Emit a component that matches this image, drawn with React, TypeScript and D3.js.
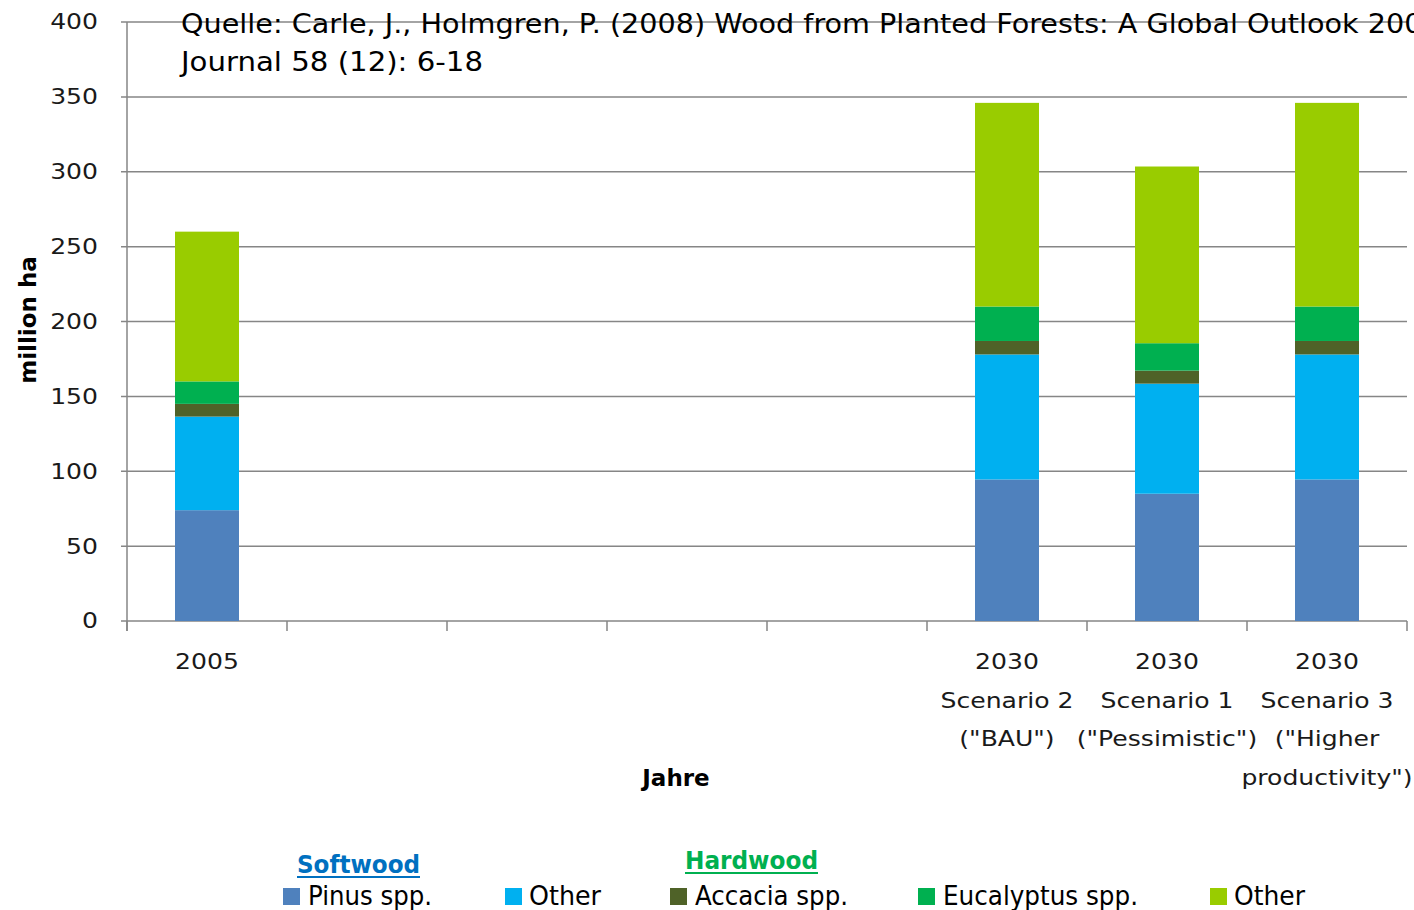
import React from "react";
import * as d3 from "d3";

const categories: string[][] = [
  ["2005"],
  [""],
  [""],
  [""],
  [""],
  ["2030", "Scenario 2", "(\"BAU\")"],
  ["2030", "Scenario 1", "(\"Pessimistic\")"],
  ["2030", "Scenario 3", "(\"Higher", "productivity\")"],
];

const pinus = [74, 0, 0, 0, 0, 94.5, 85, 94.5];
const otherSoftwood = [62.5, 0, 0, 0, 0, 83.5, 73.5, 83.5];
const accacia = [8.5, 0, 0, 0, 0, 9, 8.7, 9];
const eucalyptus = [15, 0, 0, 0, 0, 23, 18.3, 23];
const otherHardwood = [100, 0, 0, 0, 0, 136, 118, 136];

const yTicks = [0, 50, 100, 150, 200, 250, 300, 350, 400];

const seriesNames = ["Pinus spp.", "Other", "Accacia spp.", "Eucalyptus spp.", "Other"];
const seriesKeys = ["pinus", "otherSoftwood", "accacia", "eucalyptus", "otherHardwood"];
const seriesColors = ["#4F81BD", "#00B0F0", "#4F6228", "#00B050", "#99CC00"];

const titleLines = [
  "Quelle: Carle, J., Holmgren, P. (2008) Wood from Planted Forests: A Global Outlook 2005-2030.",
  "Journal 58 (12): 6-18",
];

export default function App() {
  const W = 1414;
  const H = 910;
  const left = 127;
  const right = 1407;
  const top = 22;
  const bottom = 621;
  const sx = 1.14;

  const rows = categories.map((c, i) => ({
    idx: String(i),
    pinus: pinus[i],
    otherSoftwood: otherSoftwood[i],
    accacia: accacia[i],
    eucalyptus: eucalyptus[i],
    otherHardwood: otherHardwood[i],
  }));

  const x = d3
    .scaleBand<string>()
    .domain(rows.map((r) => r.idx))
    .range([left, right])
    .paddingInner(0.6)
    .paddingOuter(0.3);
  const y = d3.scaleLinear().domain([0, 400]).range([bottom, top]);
  const stack = d3.stack<any>().keys(seriesKeys);
  const stacked = stack(rows);
  const step = x.step();
  const font = "'DejaVu Sans', Verdana, sans-serif";
  const legendFont = "'Liberation Sans Narrow', 'DejaVu Sans Condensed', 'Liberation Sans', sans-serif";

  const legendItems = [
    { sx: 283, tx: 308, tw: 124 },
    { sx: 505, tx: 529, tw: 72 },
    { sx: 670, tx: 695, tw: 153 },
    { sx: 918, tx: 943, tw: 195 },
    { sx: 1210, tx: 1234, tw: 71 },
  ];

  return (
    <svg width={W} height={H} style={{ position: "absolute", left: 0, top: 0, background: "#fff" }}>
      {/* gridlines */}
      {yTicks.map((t) => (
        <line key={"g" + t} x1={left - 6} x2={right} y1={y(t)} y2={y(t)} stroke="#868686" strokeWidth={1.5} />
      ))}
      {/* y axis */}
      <line x1={left} x2={left} y1={top} y2={bottom + 10} stroke="#868686" strokeWidth={1.5} />
      {yTicks.map((t) => (
        <g key={"yl" + t} transform={`translate(98,${y(t)}) scale(${sx},1)`}>
          <text x={0} y={0} textAnchor="end" dominantBaseline="central" fontFamily={font} fontSize={22} fill="#1a1a1a">
            {t}
          </text>
        </g>
      ))}
      {/* x ticks */}
      {d3.range(categories.length + 1).map((i) => (
        <line
          key={"xt" + i}
          x1={left + i * step}
          x2={left + i * step}
          y1={bottom}
          y2={bottom + 10}
          stroke="#868686"
          strokeWidth={1.5}
        />
      ))}
      {/* bars */}
      {stacked.map((s, si) => (
        <g key={s.key} fill={seriesColors[si]}>
          {s.map((d, di) =>
            d[1] - d[0] > 0 ? (
              <rect
                key={di}
                x={x(String(di))}
                width={x.bandwidth()}
                y={y(d[1])}
                height={y(d[0]) - y(d[1])}
              />
            ) : null
          )}
        </g>
      ))}
      {/* x labels */}
      {categories.map((lines, i) => {
        const cx = (x(String(i)) as number) + x.bandwidth() / 2;
        return (
          <g key={"xl" + i} transform={`translate(${cx},0) scale(${sx},1)`}>
            <text x={0} y={669} textAnchor="middle" fontFamily={font} fontSize={22} fill="#1a1a1a">
              {lines.map((l, li) => (
                <tspan key={li} x={0} dy={li === 0 ? 0 : 38.7}>
                  {l}
                </tspan>
              ))}
            </text>
          </g>
        );
      })}
      {/* axis titles */}
      <text x={676} y={786} textAnchor="middle" fontFamily={font} fontSize={23} fontWeight="bold" fill="#000">
        Jahre
      </text>
      <text
        transform="translate(36,320) rotate(-90)"
        textAnchor="middle"
        fontFamily={font}
        fontSize={23}
        fontWeight="bold"
        fill="#000"
      >
        million ha
      </text>
      {/* title */}
      <text x={181} y={33} fontFamily={font} fontSize={26} fill="#000" textLength={1352} lengthAdjust="spacingAndGlyphs">
        {titleLines[0]}
      </text>
      <text x={181} y={71} fontFamily={font} fontSize={26} fill="#000" textLength={302} lengthAdjust="spacingAndGlyphs">
        {titleLines[1]}
      </text>
      {/* legend group headers */}
      <text x={297} y={873} fontFamily={legendFont} fontSize={25} fontWeight="bold" fill="#0070C0" textLength={123} lengthAdjust="spacingAndGlyphs">
        Softwood
      </text>
      <line x1={297} x2={420} y1={877} y2={877} stroke="#0070C0" strokeWidth={2} />
      <text x={685} y={869} fontFamily={legendFont} fontSize={25} fontWeight="bold" fill="#00B050" textLength={133} lengthAdjust="spacingAndGlyphs">
        Hardwood
      </text>
      <line x1={685} x2={818} y1={873} y2={873} stroke="#00B050" strokeWidth={2} />
      {/* legend items */}
      {legendItems.map((li, i) => (
        <g key={"lg" + i}>
          <rect x={li.sx} y={888} width={17} height={17} fill={seriesColors[i]} />
          <text
            x={li.tx}
            y={905}
            fontFamily={legendFont}
            fontSize={27}
            fill="#000"
            textLength={li.tw}
            lengthAdjust="spacingAndGlyphs"
          >
            {seriesNames[i]}
          </text>
        </g>
      ))}
    </svg>
  );
}
